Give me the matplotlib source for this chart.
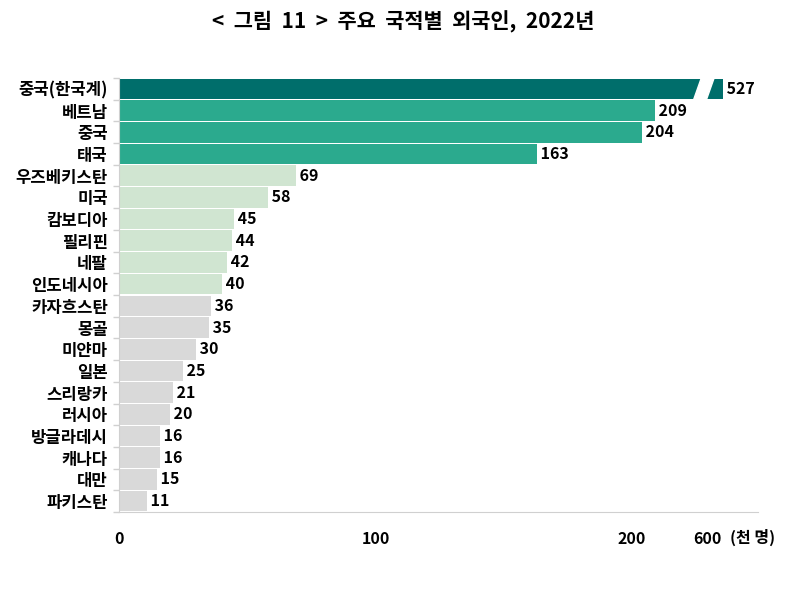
import numpy as np
import matplotlib
matplotlib.use("Agg")
from matplotlib import pyplot as plt
from matplotlib.patches import Polygon

plt.rcParams['font.family'] = ['Noto Sans CJK KR', 'DejaVu Sans']

# 국적별 외국인 (천 명)
countries = ["중국(한국계)", "베트남", "중국", "태국", "우즈베키스탄", "미국", "캄보디아",
             "필리핀", "네팔", "인도네시아", "카자흐스탄", "몽골", "미얀마", "일본",
             "스리랑카", "러시아", "방글라데시", "캐나다", "대만", "파키스탄"]
values = [527, 209, 204, 163, 69, 58, 45, 44, 42, 40, 36, 35, 30, 25, 21, 20, 16, 16, 15, 11]
groups = [0, 1, 1, 1, 2, 2, 2, 2, 2, 2, 3, 3, 3, 3, 3, 3, 3, 3, 3, 3]
tick_vals = [0, 100, 200]

palette = ["#006E6B", "#2BAA8E", "#D0E5D1", "#D9D9D9"]

# 축 끊기: 215 이후는 압축
BRK = 215
K = 0.0657

def fwd(x):
    x = np.asarray(x, dtype=float)
    return np.where(x <= BRK, x, BRK + (x - BRK) * K)

def inv(x):
    x = np.asarray(x, dtype=float)
    return np.where(x <= BRK, x, BRK + (x - BRK) / K)

fig = plt.figure(figsize=(8.06, 5.89), dpi=100)
ax = fig.add_axes([119/806, 1 - 512/589, (758-119)/806, (512-78)/589])
ax.set_xscale('function', functions=(fwd, inv))

y = np.arange(len(countries))
cols = [palette[g] for g in groups]
ax.barh(y, values, height=0.95, color=cols, zorder=2)

ax.set_ylim(len(countries) - 0.5, -0.5)
ax.set_xlim(0, float(inv(249.1)))

for yi, v in zip(y, values):
    ax.text(v, yi, " " + str(v), va='center', ha='left', fontsize=11.5,
            fontweight='bold', color='black')

# 끊김 표시 (흰색 사선)
d0, d1 = 225.5, 230.5
pts = [(inv(d0 + 1.5), -0.5), (inv(d1 + 1.5), -0.5), (inv(d1 - 1.5), 0.5), (inv(d0 - 1.5), 0.5)]
ax.add_patch(Polygon([(float(a), b) for a, b in pts], closed=True, color='white', zorder=3))

ax.set_yticks(y)
ax.set_yticklabels(countries, fontsize=12, fontweight='bold')
ax.set_yticks(np.arange(-0.5, len(countries) + 0.5, 1), minor=True)
ax.tick_params(axis='y', which='major', length=0, pad=8)
ax.tick_params(axis='y', which='minor', length=4, color='#D0D0D0', width=1)

xt = tick_vals + [float(inv(229.2))]
ax.set_xticks(xt)
ax.set_xticklabels([str(t) for t in tick_vals] + ["600"], fontsize=11.5, fontweight='bold')
ax.tick_params(axis='x', length=0, pad=14)
ax.annotate("(천 명)", xy=(float(inv(246.8)), 0), xycoords=('data', 'axes fraction'),
            xytext=(0, -12), textcoords='offset points',
            fontsize=11.5, fontweight='bold', ha='center', va='top')

for s in ['top', 'right']:
    ax.spines[s].set_visible(False)
ax.spines['left'].set_color('#D0D0D0')
ax.spines['bottom'].set_color('#D0D0D0')

fig.text(0.5, 1 - 22/589, "<  그림  11  >  주요  국적별  외국인,  2022년", ha='center',
         va='center', fontsize=15, fontweight='bold')

fig.savefig("out.png", dpi=100)
